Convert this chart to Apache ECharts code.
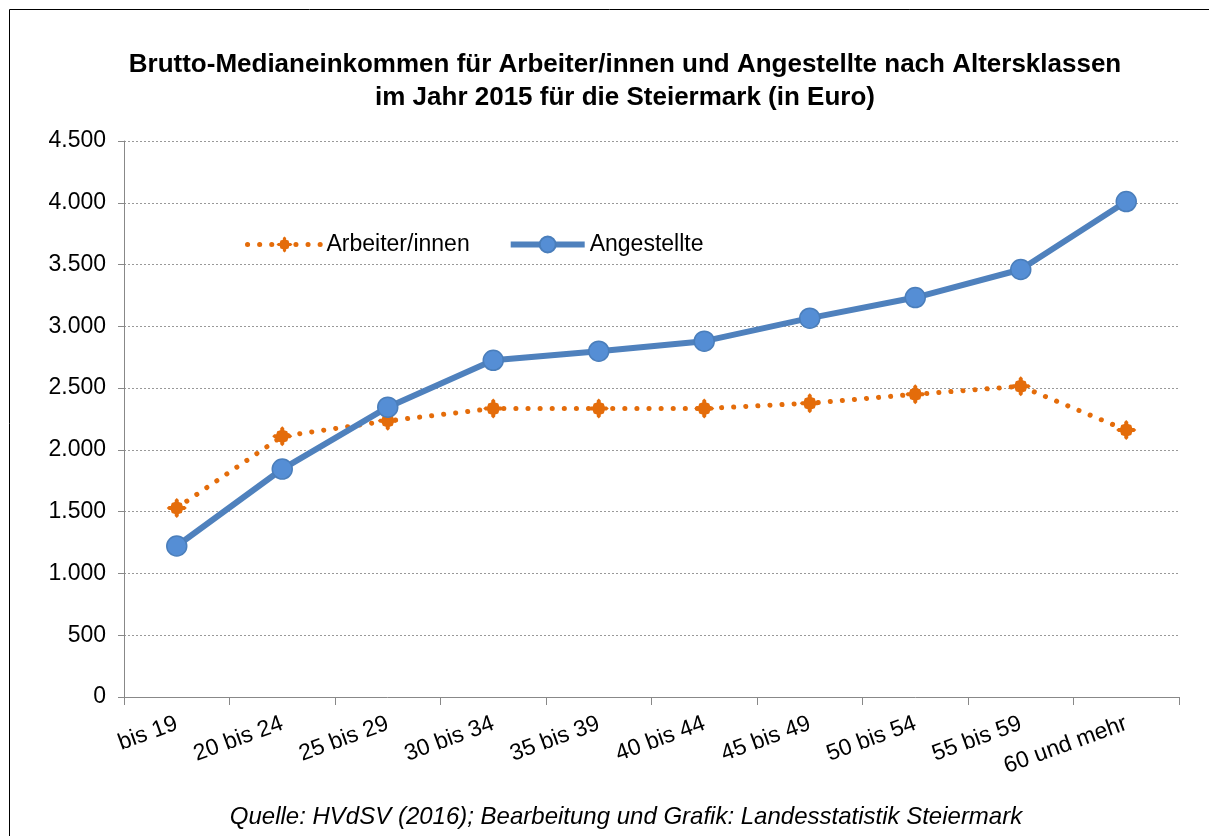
<!DOCTYPE html>
<html>
<head>
<meta charset="utf-8">
<script src="https://cdn.jsdelivr.net/npm/echarts@6/dist/echarts.min.js"></script>
<style>
  html, body { margin: 0; padding: 0; background: #fff; }
  #main { width: 1209px; height: 836px; }
</style>
</head>
<body>
<div id="main"></div>
<script>
var categories = ['bis 19', '20 bis 24', '25 bis 29', '30 bis 34', '35 bis 39', '40 bis 44', '45 bis 49', '50 bis 54', '55 bis 59', '60 und mehr'];
var arbeiter = [1530, 2110, 2235, 2335, 2335, 2335, 2378, 2450, 2515, 2160];
var angestellte = [1222, 1845, 2346, 2725, 2799, 2880, 3066, 3233, 3460, 4010];
var yTicks = [0, 500, 1000, 1500, 2000, 2500, 3000, 3500, 4000, 4500];

var myChart = echarts.init(document.getElementById('main'));

// Tausenderpunkt wie im Original
function fmt(v) {
	return String(v).replace(/\B(?=(\d{3})+(?!\d))/g, '.');
}

var orange = '#E46C0A';
var blue = '#4F81BD';
// Raute mit kleinen Zacken, wie der Excel-Marker
var starDiamond = 'path://M0,-10 L2,-8 L2,-6 L5,-5 L6,-2 L8,-2 L10,0 L8,2 L6,2 L5,5 L2,6 L2,8 L0,10 L-2,8 L-2,6 L-5,5 L-6,2 L-8,2 L-10,0 L-8,-2 L-6,-2 L-5,-5 L-2,-6 L-2,-8 Z';

var option = {
	backgroundColor: '#fff',
	textStyle: { fontFamily: 'Liberation Sans, Arial, sans-serif' },
	title: [{
		text: 'Brutto-Medianeinkommen für Arbeiter/innen und Angestellte nach Altersklassen\nim Jahr 2015 für die Steiermark (in Euro)',
		left: 620,
		top: 43,
		textAlign: 'center',
		textStyle: { fontSize: 26, fontWeight: 'bold', color: '#000', lineHeight: 33 }
	}, {
		text: 'Quelle: HVdSV (2016); Bearbeitung und Grafik: Landesstatistik Steiermark',
		left: 621,
		top: 800,
		textAlign: 'center',
		textStyle: { fontSize: 24, fontWeight: 'normal', fontStyle: 'italic', color: '#000' }
	}],
	graphic: [{
		type: 'rect',
		shape: { x: 9.5, y: 9.5, width: 1210, height: 840 },
		style: { fill: 'none', stroke: '#000', lineWidth: 1 },
		silent: true
	}],
	legend: {
		left: 240,
		top: 228,
		itemWidth: 74,
		itemHeight: 20,
		itemGap: 38,
		textStyle: { fontSize: 23, color: '#000' },
		data: [{
			name: 'Arbeiter/innen',
			lineStyle: { width: 5, type: [0.1, 12], cap: 'round', color: orange }
		}, {
			name: 'Angestellte',
			lineStyle: { width: 6, color: blue }
		}]
	},
	grid: { left: 124, right: 30, top: 141, bottom: 139, containLabel: false },
	xAxis: {
		type: 'category',
		data: categories,
		boundaryGap: true,
		axisLine: { lineStyle: { color: '#888', width: 1 } },
		axisTick: { show: true, length: 8, lineStyle: { color: '#888' } },
		axisLabel: { rotate: 20, fontSize: 23, color: '#000', margin: 26 }
	},
	yAxis: {
		type: 'value',
		min: yTicks[0],
		max: yTicks[yTicks.length - 1],
		interval: 500,
		axisLine: { show: true, lineStyle: { color: '#888' } },
		axisTick: { show: true, length: 6, lineStyle: { color: '#888' } },
		axisLabel: { fontSize: 23, color: '#000', margin: 18, formatter: fmt },
		splitLine: { lineStyle: { color: '#999', type: [2, 2], width: 1 } }
	},
	series: [{
		name: 'Arbeiter/innen',
		type: 'line',
		data: arbeiter,
		symbol: starDiamond,
		symbolSize: 20,
		itemStyle: { color: orange },
		lineStyle: { color: orange, width: 5, type: [0.1, 12], cap: 'round' },
		z: 2
	}, {
		name: 'Angestellte',
		type: 'line',
		data: angestellte,
		symbol: 'circle',
		symbolSize: 20,
		itemStyle: { color: '#558ED5', borderColor: '#4A7EBB', borderWidth: 1.5 },
		lineStyle: { color: blue, width: 6 },
		z: 3
	}]
};

myChart.setOption(option);
</script>
</body>
</html>
